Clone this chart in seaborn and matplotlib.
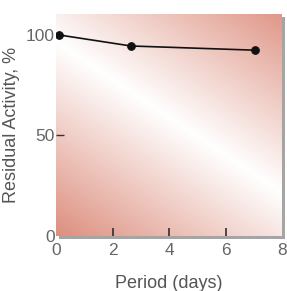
import numpy as np
import pandas as pd
import matplotlib
matplotlib.use("Agg")
import matplotlib.pyplot as plt
from matplotlib.colors import LinearSegmentedColormap
from matplotlib.patches import Rectangle
import seaborn as sns

# data
period_days = [0.1, 2.65, 7.05]
residual_activity = [100, 94.5, 92.4]
x_tick_labels = [0, 2, 4, 6, 8]
y_tick_labels = [0, 50, 100]

sns.set_theme(style="white", rc={'xtick.bottom': True, 'ytick.left': True})
plt.rcParams['font.family'] = ['Liberation Sans', 'DejaVu Sans']

W, H = 287, 291
fig = plt.figure(figsize=(W / 100, H / 100), dpi=100)
left, right, top, bottom = 56, 282, 14, 236
ax = fig.add_axes([left / W, 1 - bottom / H, (right - left) / W, (bottom - top) / H])
ax.set_zorder(2)

# grey drop shadow behind the plot area
shadow = Rectangle(((left + 3) / W, 1 - (bottom + 3) / H), (right - left) / W, (bottom - top) / H,
                   transform=fig.transFigure, facecolor='#a5a5a5', edgecolor='none', zorder=0)
fig.patches.append(shadow)

# diagonal gradient background: white band, salmon corners
pw, ph = right - left, bottom - top
xx, yy = np.meshgrid(np.arange(pw) + left, np.arange(ph) + top)
p0 = np.array([58.0, 43.0])
d = np.array([224.0, 150.0])
n = np.array([-d[1], d[0]]) / np.hypot(*d)
dist = np.abs((xx - p0[0]) * n[0] + (yy - p0[1]) * n[1]) / 165.0
dist = np.clip(dist, 0, 1)
cmap = LinearSegmentedColormap.from_list('bg', ['#ffffff', '#dc8c7b'])
ax.imshow(dist, cmap=cmap, vmin=0, vmax=1, extent=[0, 8, 0, 110.4],
          aspect='auto', zorder=0, origin='upper', interpolation='bilinear')

df = pd.DataFrame({'Period (days)': period_days, 'Residual Activity, %': residual_activity})
sns.lineplot(data=df, x='Period (days)', y='Residual Activity, %', ax=ax, color='#111111',
             linewidth=1.2, marker='o', markersize=5.5, markeredgecolor='#111111', zorder=3)

ax.set_xlim(0, 8)
ax.set_ylim(0, 110.4)
for s in ax.spines.values():
    s.set_visible(False)

# labels on major ticks, y tick marks on minor ticks (only inside the plot)
ax.set_xticks(x_tick_labels)
ax.set_yticks(y_tick_labels)
ax.set_yticks(y_tick_labels[1:], minor=True)
ax.yaxis.remove_overlapping_locs = False
ax.tick_params(axis='both', which='major', length=0, labelsize=12.5, labelcolor='#666666')
ax.tick_params(axis='x', which='major', pad=5)
ax.tick_params(axis='y', which='major', pad=1)
ax.tick_params(axis='y', which='minor', left=True, direction='in', length=6, width=1, color='#333333')

# inward x tick marks at the inner tick positions, drawn in axes-height units
ax.vlines(x_tick_labels[1:-1], 0, 0.035, transform=ax.get_xaxis_transform(),
          colors='#222222', linewidth=1.1, zorder=4, clip_on=False)

ax.set_xlabel('Period (days)', fontsize=13, color='#555555', labelpad=12)
ax.set_ylabel('Residual Activity, %', fontsize=13, color='#555555', labelpad=4)

fig.savefig('out.png', dpi=100)
